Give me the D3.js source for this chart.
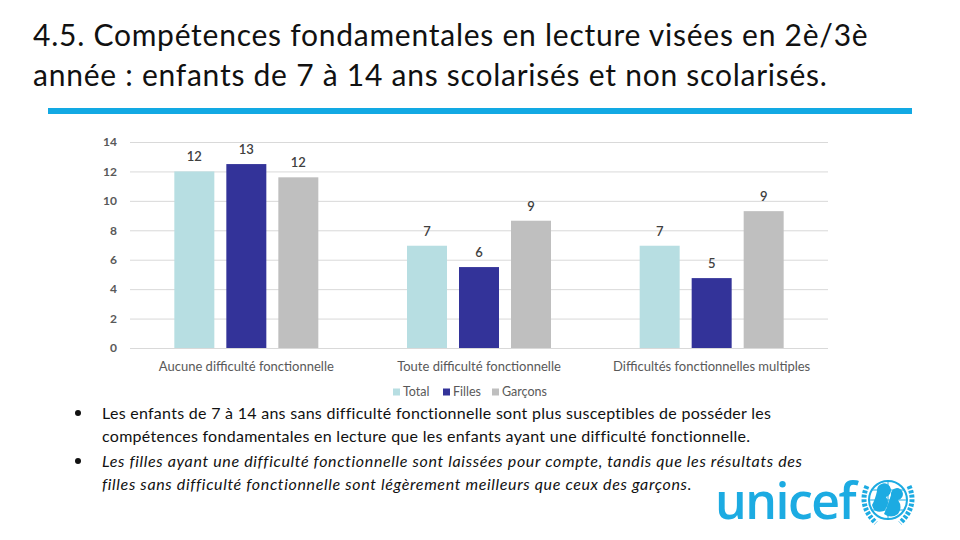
<!DOCTYPE html>
<html><head><meta charset="utf-8">
<script src="https://cdn.jsdelivr.net/npm/d3@7"></script>
<style>
html,body{margin:0;padding:0;background:#fff;}
svg{display:block;font-family:Lato,"Open Sans",sans-serif;}
</style></head>
<body>
<svg id="c" width="960" height="540"></svg>
<script>
const titleLines = ["4.5. Compétences fondamentales en lecture visées en 2è/3è",
  "année : enfants de 7 à 14 ans scolarisés et non scolarisés."];
const categories = ["Aucune difficulté fonctionnelle", "Toute difficulté fonctionnelle", "Difficultés fonctionnelles multiples"];
const series = ["Total", "Filles", "Garçons"];
const total   = [12.0, 6.95, 6.95];
const filles  = [12.5, 5.5, 4.75];
const garcons = [11.6, 8.65, 9.3];
const labelsTotal   = ["12", "7", "7"];
const labelsFilles  = ["13", "6", "5"];
const labelsGarcons = ["12", "9", "9"];
const yTicks = [0, 2, 4, 6, 8, 10, 12, 14];
const colors = ["#B7DEE2", "#333399", "#BFBFBF"];
const bullets = [
  {lines:["Les enfants de 7 à 14 ans sans difficulté fonctionnelle sont plus susceptibles de posséder les",
          "compétences fondamentales en lecture que les enfants ayant une difficulté fonctionnelle."], italic:false},
  {lines:["Les filles ayant une difficulté fonctionnelle sont laissées pour compte, tandis que les résultats des",
          "filles sans difficulté fonctionnelle sont légèrement meilleurs que ceux des garçons."], italic:true}
];

const values = [total, filles, garcons];
const labels = [labelsTotal, labelsFilles, labelsGarcons];
const svg = d3.select("#c");

// Title
svg.append("g").selectAll("text").data(titleLines).join("text")
  .attr("x", 33).attr("y", (d,i)=>46+i*40)
  .attr("font-size", 30).attr("fill", "#111").attr("letter-spacing", 0.75)
  .attr("font-family", "Lato, sans-serif")
  .text(d=>d);
svg.append("rect").attr("x",48).attr("y",108).attr("width",864).attr("height",6).attr("fill","#12A9E3");

// Chart
const x0 = d3.scaleBand().domain(categories).range([130, 828]).padding(0);
const y = d3.scaleLinear().domain([0, 14]).range([348, 142]);
const groupW = 144;
const x1 = d3.scaleBand().domain(series).range([0, groupW]).paddingInner(0.2308).paddingOuter(0);

const g = svg.append("g");
g.selectAll("line.grid").data(yTicks).join("line")
  .attr("x1", 130).attr("x2", 828)
  .attr("y1", d=>y(d)+0.5).attr("y2", d=>y(d)+0.5)
  .attr("stroke", "#D9D9D9").attr("stroke-width", 1);

const yAxis = d3.axisLeft(y).tickValues(yTicks).tickSize(0).tickPadding(0);
const ya = g.append("g").attr("transform","translate(117,0)").call(yAxis);
ya.select(".domain").remove();
ya.selectAll("text").attr("font-size", 12).attr("fill", "#595959").attr("font-family","Lato, sans-serif").attr("font-weight","bold");

const data = [];
categories.forEach((c,ci)=>series.forEach((s,si)=>data.push({c, s, si, v: values[si][ci], l: labels[si][ci]})));
const gx = c => x0(c) + (x0.bandwidth()-groupW)/2;

g.selectAll("rect.bar").data(data).join("rect")
  .attr("x", d=>gx(d.c)+x1(d.s)).attr("width", x1.bandwidth())
  .attr("y", d=>y(d.v)).attr("height", d=>y(0)-y(d.v))
  .attr("fill", d=>colors[d.si]);

g.selectAll("text.lbl").data(data).join("text")
  .attr("x", d=>gx(d.c)+x1(d.s)+x1.bandwidth()/2)
  .attr("y", d=>y(d.v)-10)
  .attr("text-anchor","middle").attr("font-size", 13).attr("fill","#404040")
  .attr("font-weight",600)
  .text(d=>d.l);

const xAxis = d3.axisBottom(x0).tickSize(0).tickPadding(0);
const xa = g.append("g").attr("transform","translate(0,366)").call(xAxis);
xa.select(".domain").remove();
xa.selectAll("text").attr("font-size", 13).attr("fill","#595959").attr("font-family","Lato, sans-serif").attr("dy","0.35em");

// Legend
const legX = [393, 443, 492];
const lg = svg.append("g").selectAll("g").data(series).join("g")
  .attr("transform", (d,i)=>`translate(${legX[i]},392)`);
lg.append("rect").attr("x",0).attr("y",-3.5).attr("width",7).attr("height",7).attr("fill",(d,i)=>colors[i]);
lg.append("text").attr("x",10).attr("y",0).attr("dy","0.35em").attr("font-size",12.5).attr("fill","#595959").text(d=>d);

// Bullets
const bg = svg.append("g");
bullets.forEach((b,bi)=>{
  const y0 = 413 + bi*48;
  bg.append("circle").attr("cx",78).attr("cy",y0).attr("r",3).attr("fill","#111");
  b.lines.forEach((ln,li)=>{
    bg.append("text").attr("x",102).attr("y",y0+li*23).attr("dy","0.35em")
      .attr("font-size",16).attr("fill","#111").attr("letter-spacing", b.italic ? 0.65 : 0.28)
      .attr("font-style", b.italic ? "italic" : "normal")
      .text(ln);
  });
});

// UNICEF logo
svg.append("text").attr("x",715).attr("y",519).attr("font-size",50).attr("fill","#1CABE2")
  .attr("font-family","'Open Sans', sans-serif").attr("font-weight",600).attr("letter-spacing",-1.5).text("unicef");
const em = svg.append("g").attr("transform","translate(888,500)");
em.append("circle").attr("r",19).attr("fill","none").attr("stroke","#1CABE2").attr("stroke-width",2);
em.append("path").attr("d","M0,-19 V19 M-19,0 H19 M-16,-10 H16 M-16,10 H16").attr("stroke","#1CABE2").attr("stroke-width",1);
em.append("path").attr("d","M-21,-14 Q-30,6 -12,23 M21,-14 Q30,6 12,23").attr("fill","none").attr("stroke","#1CABE2").attr("stroke-width",5).attr("stroke-dasharray","3,1.5");
em.append("path").attr("d","M-11,-9 a7,7 0 1,1 9,6 q5,7 -2,14 q-10,3 -12,-6 q3,-5 5,-14z").attr("fill","#1CABE2");
em.append("path").attr("d","M3,-5 a6,6 0 1,1 7,5 q5,7 0,14 q-7,5 -14,0 q4,-9 7,-19z").attr("fill","#1CABE2");
</script>
</body></html>
